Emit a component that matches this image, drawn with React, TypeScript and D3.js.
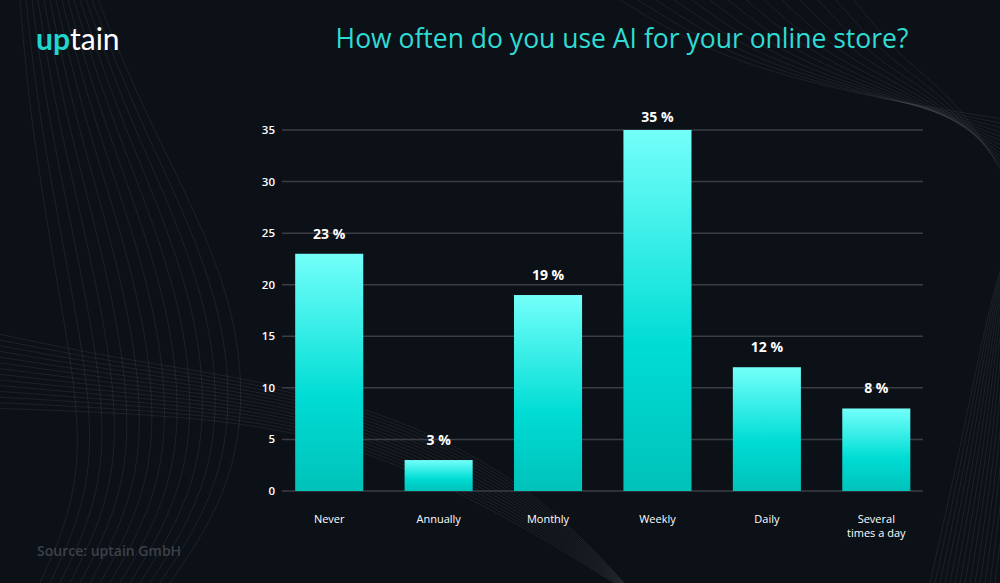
import React from "react";
import * as d3 from "d3";

const categories = ["Never", "Annually", "Monthly", "Weekly", "Daily", "Several\ntimes a day"];
const values = [23, 3, 19, 35, 12, 8];
const yTicks = [0, 5, 10, 15, 20, 25, 30, 35];
const titleText = "How often do you use AI for your online store?";
const sourceText = "Source: uptain GmbH";

const W = 1000;
const H = 583;

export default function App() {
  const x = d3
    .scaleBand<string>()
    .domain(categories)
    .range([274.5, 931])
    .paddingInner(0.378)
    .paddingOuter(0.189);
  const y = d3.scaleLinear().domain([0, 35]).range([491, 130]);

  // decorative background curves
  const curves: string[] = [];
  const line = d3.line<[number, number]>().curve(d3.curveBasis);
  for (let i = 0; i < 14; i++) {
    curves.push(
      line([
        [-20, 330 + i * 6],
        [120, 360 + i * 4],
        [330, 390 + i * 3],
        [520, 470 + i * 4],
        [640, 600],
      ]) as string
    );
    curves.push(
      line([
        [40 + i * 10, 583],
        [90 + i * 12, 470],
        [60 + i * 14, 300],
        [30 + i * 9, 120],
        [20 + i * 6, 0],
      ]) as string
    );
    curves.push(
      line([
        [620 + i * 18, 0],
        [720 + i * 14, 60],
        [880 + i * 6, 100],
        [1010, 120 + i * 5],
      ]) as string
    );
    curves.push(
      line([
        [930 + i * 5, 583],
        [960 + i * 4, 450],
        [990 + i * 2, 300],
        [1010, 240],
      ]) as string
    );
  }

  return (
    <svg width={W} height={H} style={{ position: "absolute", left: 0, top: 0 }}>
      <defs>
        <linearGradient id="barGrad" x1="0" y1="0" x2="0" y2="1">
          <stop offset="0%" stopColor="#74fffa" />
          <stop offset="45%" stopColor="#1de6de" />
          <stop offset="60%" stopColor="#00dcd4" />
          <stop offset="100%" stopColor="#00c2ba" />
        </linearGradient>
      </defs>
      <rect width={W} height={H} fill="#0c1017" />
      <g fill="none" stroke="#ffffff" strokeOpacity={0.07} strokeWidth={1}>
        {curves.map((d, i) => (
          <path key={i} d={d} />
        ))}
      </g>

      {/* logo */}
      <text x={36} y={50} fontFamily="Lato, 'Open Sans', sans-serif" fontSize={30} fontWeight={400}>
        <tspan fill="#1ed6cd" fontWeight={700}>up</tspan>
        <tspan fill="#ffffff">tain</tspan>
      </text>

      {/* title */}
      <text
        x={622}
        y={48}
        textAnchor="middle"
        fill="#2fdcd3"
        fontFamily="'Open Sans', sans-serif"
        fontSize={26.5}
      >
        {titleText}
      </text>

      {/* grid */}
      {yTicks.map((t) => (
        <g key={t}>
          <line x1={282} x2={923} y1={y(t)} y2={y(t)} stroke="#3a3d44" strokeWidth={1.5} />
          <text
            x={275}
            y={y(t)}
            dy="0.35em"
            textAnchor="end"
            fill="#ffffff"
            fontFamily="'Open Sans', sans-serif"
            fontSize={11.5}
            fontWeight={600}
          >
            {t}
          </text>
        </g>
      ))}

      {/* bars */}
      {categories.map((c, i) => {
        const bx = x(c)!;
        const bw = x.bandwidth();
        const v = values[i];
        const lines = c.split("\n");
        return (
          <g key={c}>
            <rect x={bx} y={y(v)} width={bw} height={y(0) - y(v)} fill="url(#barGrad)" />
            <text
              x={bx + bw / 2}
              y={Math.max(y(v) - 15, 122)}
              textAnchor="middle"
              fill="#ffffff"
              fontFamily="'Open Sans', sans-serif"
              fontSize={14}
              fontWeight={700}
            >
              {`${v} %`}
            </text>
            {lines.map((l, j) => (
              <text
                key={j}
                x={bx + bw / 2}
                y={523 + j * 13.5}
                textAnchor="middle"
                fill="#ffffff"
                fontFamily="'Open Sans', sans-serif"
                fontSize={11}
              >
                {l}
              </text>
            ))}
          </g>
        );
      })}

      {/* source */}
      <text
        x={37}
        y={556}
        fill="#3c414a"
        fontFamily="'Open Sans', sans-serif"
        fontSize={14}
        fontWeight={600}
      >
        {sourceText}
      </text>
    </svg>
  );
}
